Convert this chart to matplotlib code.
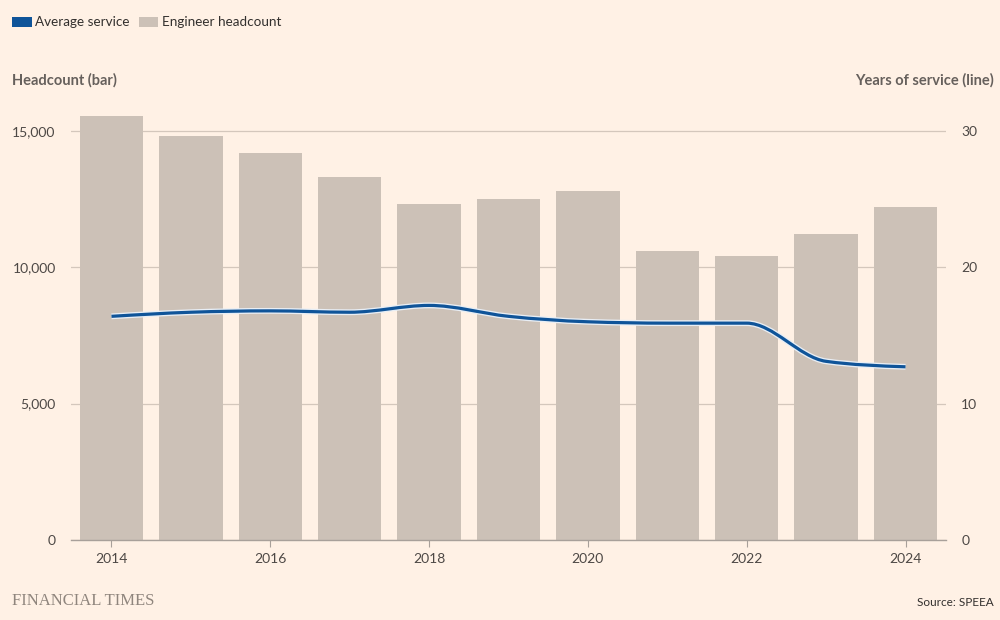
import numpy as np
import matplotlib
matplotlib.use("Agg")
import matplotlib.pyplot as plt
from matplotlib.path import Path
from matplotlib.patches import PathPatch, Patch
import matplotlib.patheffects as pe

# data
years = [2014, 2015, 2016, 2017, 2018, 2019, 2020, 2021, 2022, 2023, 2024]
headcount = [15550, 14800, 14200, 13300, 12300, 12500, 12800, 10600, 10400, 11200, 12200]
avg_service = [16.4, 16.7, 16.8, 16.7, 17.2, 16.4, 16.0, 15.9, 15.9, 13.1, 12.7]

left_ticks = [0, 5000, 10000, 15000]
right_ticks = [0, 10, 20, 30]
x_ticks = [2014, 2016, 2018, 2020, 2022, 2024]

BG = "#fff1e5"
BAR = "#ccc1b7"
BLUE = "#0f5499"
GRID = "#d4c7bc"
TXT = "#66605c"
TICK = "#4d4845"

plt.rcParams["font.family"] = ["Lato", "DejaVu Sans"]


def monotone_path(xs, ys):
    # cubic bezier path like d3.curveMonotoneX
    xs = np.asarray(xs, float)
    ys = np.asarray(ys, float)
    h = np.diff(xs)
    s = np.diff(ys) / h
    n = len(xs)
    t = np.zeros(n)
    for i in range(1, n - 1):
        s0, s1 = s[i - 1], s[i]
        p = (s0 * h[i] + s1 * h[i - 1]) / (h[i - 1] + h[i])
        t[i] = (np.sign(s0) + np.sign(s1)) * min(abs(s0), abs(s1), 0.5 * abs(p))
    t[0] = (3 * s[0] - t[1]) / 2
    t[-1] = (3 * s[-1] - t[-2]) / 2
    verts = [(xs[0], ys[0])]
    codes = [Path.MOVETO]
    for i in range(n - 1):
        dx = h[i] / 3
        verts += [(xs[i] + dx, ys[i] + dx * t[i]),
                  (xs[i + 1] - dx, ys[i + 1] - dx * t[i + 1]),
                  (xs[i + 1], ys[i + 1])]
        codes += [Path.CURVE4] * 3
    return Path(verts, codes)


fig = plt.figure(figsize=(10, 6.2), dpi=100, facecolor=BG)
ax = fig.add_axes([0.071, 0.129, 0.875, 0.704])
ax.set_facecolor(BG)

ax.bar(years, headcount, width=0.8, color=BAR, zorder=2)
ax.set_xlim(2013.49, 2024.51)
ax.set_ylim(0, 16000)
ax.set_yticks(left_ticks)
ax.set_yticklabels([f"{v:,}" for v in left_ticks])
ax.set_xticks(x_ticks)
ax.set_xticklabels([str(y) for y in x_ticks])
ax.grid(axis="y", color=GRID, linewidth=0.9, zorder=1)
for sp in ["top", "left", "right"]:
    ax.spines[sp].set_visible(False)
ax.spines["bottom"].set_color("#a8a09a")
ax.spines["bottom"].set_linewidth(1.0)
ax.spines["bottom"].set_zorder(3)
ax.tick_params(axis="y", length=0, pad=11, labelsize=10, labelcolor=TICK)
ax.tick_params(axis="x", length=5, width=0.8, color="#a8a09a", pad=4,
               labelsize=10, labelcolor=TICK)

ax2 = ax.twinx()
ax2.set_ylim(0, 32)
ax2.set_yticks(right_ticks)
ax2.set_yticklabels([str(v) for v in right_ticks])
ax2.tick_params(axis="y", length=0, pad=11, labelsize=10, labelcolor=TICK)
for sp in ax2.spines.values():
    sp.set_visible(False)

line = PathPatch(monotone_path(years, avg_service), facecolor="none",
                 edgecolor=BLUE, linewidth=2.3, zorder=5, capstyle="butt")
line.set_path_effects([pe.Stroke(linewidth=4.2, foreground="#e8eef5"), pe.Normal()])
ax2.add_patch(line)

fig.text(0.012, 0.871, "Headcount (bar)", fontsize=10.5, fontweight="bold",
         color=TXT, va="center", ha="left")
fig.text(0.994, 0.871, "Years of service (line)", fontsize=10.5, fontweight="bold",
         color=TXT, va="center", ha="right")

handles = [Patch(facecolor=BLUE, label="Average service"),
           Patch(facecolor=BAR, label="Engineer headcount")]
fig.legend(handles=handles, loc="center left", bbox_to_anchor=(0.012, 0.964),
           ncol=2, frameon=False, fontsize=9.7, handlelength=1.45, handleheight=0.75,
           handletextpad=0.25, columnspacing=0.7, borderpad=0, borderaxespad=0,
           labelcolor="#33302e")

fig.text(0.012, 0.031, "FINANCIAL TIMES", family=["Liberation Serif", "DejaVu Serif"],
         fontsize=12, color="#8f857d", va="center", ha="left")
fig.text(0.994, 0.028, "Source: SPEEA", fontsize=8.5, color="#33302e",
         va="center", ha="right")

fig.savefig("out.png", dpi=100, facecolor=BG)
